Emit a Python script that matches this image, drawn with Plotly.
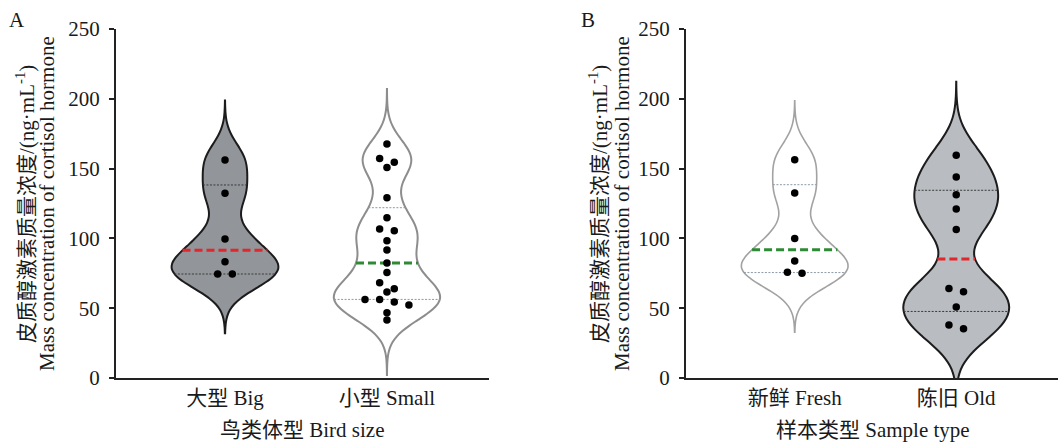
import numpy as np
import plotly.graph_objects as go

# ---------------- data ----------------
panel_a_categories = ["大型 Big", "小型 Small"]
panel_b_categories = ["新鲜 Fresh", "陈旧 Old"]

big = [156.2, 132.3, 99.6, 83.3, 74.5, 74.5]
small = [167.6, 157.3, 154.5, 150.7, 129.2, 114.8, 106.7, 105.5, 98.4, 91.7,
         82.4, 75.5, 68.3, 64.0, 61.6, 56.3, 56.3, 54.4, 52.3, 46.8, 41.5]
fresh = [156.4, 132.5, 100.0, 83.8, 75.7, 75.0]
old = [159.5, 144.0, 131.3, 121.1, 106.3, 64.2, 61.8, 50.9, 38.0, 35.3]

y_ticks = [0, 50, 100, 150, 200, 250]

# ---------------- layout geometry ----------------
W, H = 1058, 444
PX_PER_UNIT = 161.6          # x data unit in px
VIOLIN_W = 106 / PX_PER_UNIT  # full violin width in x units
DOT_STEP = 7.3 / PX_PER_UNIT  # swarm step
XR = [-0.673, 1.63]

FONT = "Liberation Serif, Times New Roman, Noto Sans CJK SC, serif"
TXT = "#1a1a1a"


def silverman(v):
    v = np.asarray(v, float)
    sd = v.std(ddof=1)
    q1, q3 = np.percentile(v, [25, 75], method="weibull")
    return 0.9 * min(sd, (q3 - q1) / 1.34) * len(v) ** -0.2


def kde(v, t, bw):
    v = np.asarray(v, float)
    t = np.atleast_1d(np.asarray(t, float))
    return np.exp(-0.5 * ((t[:, None] - v[None, :]) / bw) ** 2).sum(axis=1)


def max_kde(v, span, bw):
    dist = span[1] - span[0]
    n = int(np.ceil(dist / (bw / 3)))
    step = dist / n
    ts = span[0] + step * np.arange(n + 1)
    return kde(v, ts, bw).max()


def swarm_offsets(vals, h=5.0):
    order = sorted(range(len(vals)), key=lambda i: -vals[i])
    offs = [0] * len(vals)
    groups, cur = [], []
    for i in order:
        if cur and vals[cur[0]] - vals[i] > h:
            groups.append(cur)
            cur = []
        cur.append(i)
    groups.append(cur)
    for g in groups:
        n = len(g)
        for k, i in enumerate(g):
            offs[i] = 2 * k - (n - 1)
    return offs


fig = go.Figure()


def add_group(vals, pos, xa, ya, fill, line_col, line_w, med_col, q_col):
    vals = list(vals)
    S = silverman(vals)
    bw = 0.6 * S
    span = [min(vals) - 2 * S, max(vals) + 2 * S]
    mk = max_kde(vals, span, bw)
    fig.add_trace(go.Violin(
        x=[pos] * len(vals), y=vals, xaxis=xa, yaxis=ya,
        bandwidth=bw, spanmode="manual", span=span, width=VIOLIN_W,
        side="both", fillcolor=fill, line=dict(color=line_col, width=line_w),
        points=False, box=dict(visible=False), meanline=dict(visible=False),
        showlegend=False, hoverinfo="skip", orientation="v"))

    q1, med, q3 = np.percentile(vals, [25, 50, 75], method="weibull")

    def hw(y):
        return VIOLIN_W / 2 * kde(vals, y, bw)[0] / mk

    for q in (q1, q3):
        h = hw(q)
        fig.add_trace(go.Scatter(
            x=[pos - h, pos + h], y=[q, q], xaxis=xa, yaxis=ya, mode="lines",
            line=dict(color=q_col, width=1, dash="2px,1.5px"),
            showlegend=False, hoverinfo="skip"))
    h = hw(med)
    fig.add_trace(go.Scatter(
        x=[pos - h, pos + h], y=[med, med], xaxis=xa, yaxis=ya, mode="lines",
        line=dict(color=med_col, width=3, dash="8px,4px"),
        showlegend=False, hoverinfo="skip"))

    offs = swarm_offsets(vals)
    fig.add_trace(go.Scatter(
        x=[pos + o * DOT_STEP for o in offs], y=vals, xaxis=xa, yaxis=ya,
        mode="markers", marker=dict(color="black", size=7.5, line=dict(width=0)),
        showlegend=False, hoverinfo="skip"))


add_group(big, 0, "x", "y", "#929599", "#1c1c1c", 2, "#e3262b", "#3a3a3a")
add_group(small, 1, "x", "y", "#ffffff", "#8d8d8d", 2, "#2f8a36", "#8b9aa8")
add_group(fresh, 0, "x2", "y2", "#ffffff", "#a2a2a2", 1.6, "#2f8a36", "#8b9aa8")
add_group(old, 1, "x2", "y2", "#b9bcc1", "#1c1c1c", 2, "#e3262b", "#3a3a3a")

y_dom = [1 - 378 / H, 1 - 29 / H]


def xaxis(dom, labels, anchor):
    return dict(domain=dom, range=XR, tickmode="array", tickvals=[0, 1],
                ticktext=labels, showline=True, linecolor="#222", linewidth=2,
                ticks="", showgrid=False, zeroline=False, anchor=anchor,
                automargin=False,
                tickfont=dict(family=FONT, size=21, color=TXT), fixedrange=True)


def yaxis(anchor):
    return dict(domain=y_dom, range=[0, 250], tickmode="array", tickvals=y_ticks,
                showline=True, linecolor="#222", linewidth=2, ticks="outside",
                ticklen=5, tickwidth=1.5, tickcolor="#222", showgrid=False,
                zeroline=False, anchor=anchor, ticklabelstandoff=5,
                automargin=False,
                tickfont=dict(family=FONT, size=21, color=TXT), fixedrange=True)


ann_font = dict(family=FONT, size=21, color=TXT)
line1 = "皮质醇激素质量浓度/(ng·mL<sup>-1</sup>)"
line2 = "Mass concentration of cortisol hormone"


def ann(text, px, py, font=ann_font, angle=0):
    return dict(text=text, x=px / W, y=1 - py / H, xref="paper", yref="paper",
                xanchor="center", yanchor="middle", textangle=angle,
                showarrow=False, font=font)


letter_font = dict(family=FONT, size=21, color=TXT)
annotations = [
    ann("A", 17, 20, letter_font),
    ann("B", 588, 20, letter_font),
    ann(line1, 25, 204, angle=-90),
    ann(line2, 47, 204, angle=-90),
    ann(line1, 598, 204, angle=-90),
    ann(line2, 622, 204, angle=-90),
    ann("鸟类体型 Bird size", 302, 430),
    ann("样本类型 Sample type", 873, 430),
]

fig.update_layout(
    width=W, height=H, autosize=False,
    margin=dict(l=0, r=0, t=0, b=0, pad=0, autoexpand=False),
    paper_bgcolor="white", plot_bgcolor="white",
    xaxis=xaxis([116 / W, 489 / W], panel_a_categories, "y"),
    yaxis=yaxis("x"),
    xaxis2=xaxis([686 / W, 1.0], panel_b_categories, "y2"),
    yaxis2=yaxis("x2"),
    annotations=annotations,
    showlegend=False,
)

fig.write_html("out.html",
               config={"displayModeBar": False},
               post_script="document.body.style.margin='0';"
                           "document.body.style.padding='0';")
